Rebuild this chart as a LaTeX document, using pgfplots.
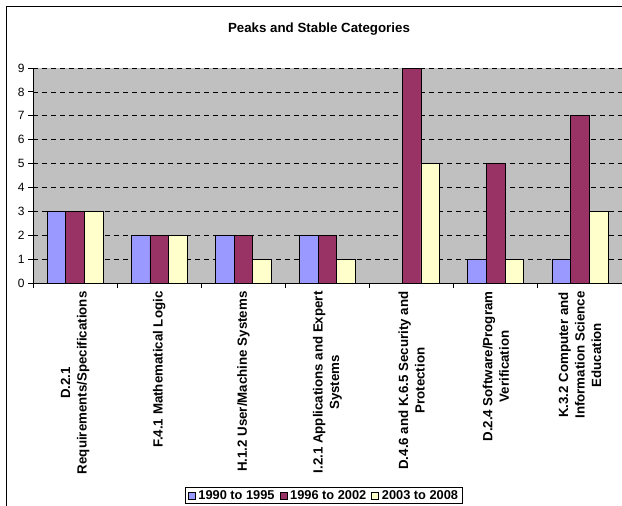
\documentclass[border=0pt]{standalone}
\usepackage{fontspec}
\setmainfont{Liberation Sans}
\usepackage{pgfplots}
\pgfplotsset{compat=1.18}
\definecolor{cblue}{HTML}{9999FF}
\definecolor{cmaroon}{HTML}{993366}
\definecolor{cyellow}{HTML}{FFFFCC}
\definecolor{plotgray}{HTML}{C0C0C0}
\begin{document}
\begin{tikzpicture}[x=1pt,y=1pt]
\useasboundingbox (0,0) rectangle (622,506);
\draw[line width=1.2pt] (6.5,-2) -- (6.5,499.5) -- (630,499.5);
\node[font=\bfseries\fontsize{13.3}{16}\selectfont] at (319,477) {Peaks and Stable Categories};
\begin{axis}[
  at={(33pt,223pt)}, anchor=south west,
  scale only axis, width=589pt, height=215pt,
  xmin=-0.5, xmax=6.5, ymin=0, ymax=9,
  axis background/.style={fill=plotgray},
  axis x line*=bottom, axis y line*=left,
  axis line style={-, black, line width=0.8pt},
  ybar=0pt, bar width=18.7pt,
  xtick={-0.5,0.5,1.5,2.5,3.5,4.5,5.5,6.5},
  x tick label as interval,
  xticklabels={{D.2.1\\Requirements/Specifications},
    {F.4.1 Mathematical Logic},
    {H.1.2 User/Machine Systems},
    {I.2.1 Applications and Expert\\Systems},
    {D.4.6 and K.6.5 Security and\\Protection},
    {D.2.4 Software/Program\\Verification},
    {K.3.2 Computer and\\Information Science\\Education}},
  xticklabel style={rotate=90, anchor=east, align=center,
    font=\bfseries\fontsize{13.3}{16.5}\selectfont},
  ytick={0,1,2,3,4,5,6,7,8,9},
  yticklabel style={font=\fontsize{12}{14}\selectfont},
  /pgf/number format/assume math mode=true,
  tick align=outside, major tick length=5pt,
  tick style={black, line width=0.8pt},
  ymajorgrids,
  major grid style={black, dash pattern=on 5pt off 4pt, line width=0.7pt},
  legend columns=3,
  legend style={at={(0.494,-0.949)}, anchor=north, draw=black, line width=0.8pt,
    font=\bfseries\fontsize{12.8}{15}\selectfont,
    inner xsep=2pt, inner ysep=1pt,
    /tikz/every odd column/.append style={column sep=1pt},
    /tikz/every even column/.append style={column sep=3pt}},
  legend image code/.code={\draw[#1, line width=0.6pt] (0pt,-3.5pt) rectangle (7pt,3.5pt);},
]
\addplot[fill=cblue, draw=black, line width=0.7pt] coordinates {(0,3) (1,2) (2,2) (3,2) (5,1) (6,1)};
\addplot[fill=cmaroon, draw=black, line width=0.7pt] coordinates {(0,3) (1,2) (2,2) (3,2) (4,9) (5,5) (6,7)};
\addplot[fill=cyellow, draw=black, line width=0.7pt] coordinates {(0,3) (1,2) (2,1) (3,1) (4,5) (5,1) (6,3)};
\legend{1990 to 1995, 1996 to 2002, 2003 to 2008}
\end{axis}
\end{tikzpicture}
\end{document}
